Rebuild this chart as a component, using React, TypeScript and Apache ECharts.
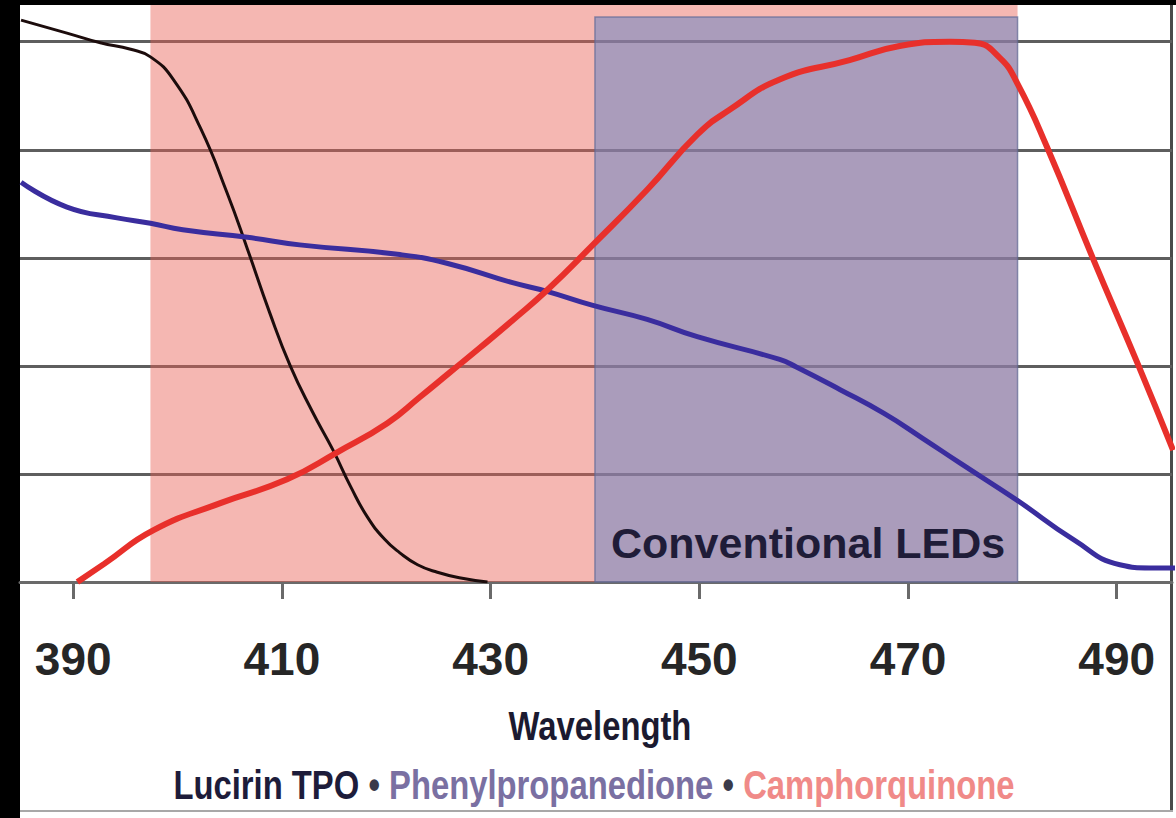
import React, { useEffect, useRef } from "react";
import * as echarts from "echarts";

// ---- data ----
const tickLabels = [390, 410, 430, 450, 470, 490];

const tpoX = [385.0, 389.4, 392.6, 395.5, 397.4, 399.6, 402.2, 404.75, 406.7, 408.8, 410.8, 412.9, 414.9, 416.6, 418.2, 419.8, 421.3, 423.0, 424.9, 427.0, 429.7];
const tpoY = [5.2, 5.08, 4.99, 4.93, 4.86, 4.65, 4.2, 3.6, 3.08, 2.5, 2.0, 1.58, 1.22, 0.88, 0.6, 0.4, 0.27, 0.16, 0.09, 0.04, 0.0];

const ppdX = [385.0, 389.4, 394.2, 397.4, 400.5, 406.7, 411.7, 421.3, 425.8, 432.1, 435.4, 439.8, 445.0, 449.8, 457.7, 459.3, 463.5, 467.7, 471.4, 475.0, 480.4, 485.9, 490.3, 493.2, 495.6];
const ppdY = [3.7, 3.47, 3.37, 3.32, 3.26, 3.19, 3.12, 3.03, 2.95, 2.77, 2.69, 2.56, 2.43, 2.27, 2.06, 1.99, 1.78, 1.56, 1.33, 1.1, 0.76, 0.39, 0.16, 0.13, 0.13];

const cqX = [390.4, 393.0, 397.7, 404.1, 410.5, 415.3, 420.1, 423.2, 426.1, 429.0, 432.2, 435.4, 439.8, 445.0, 449.8, 452.9, 457.7, 464.4, 469.2, 474.0, 476.4, 478.8, 480.5, 483.3, 487.7, 492.1, 495.4];
const cqY = [0.0, 0.17, 0.48, 0.73, 0.95, 1.2, 1.47, 1.71, 1.94, 2.17, 2.43, 2.7, 3.12, 3.63, 4.14, 4.37, 4.65, 4.83, 4.96, 5.0, 4.99, 4.85, 4.61, 4.03, 3.0, 2.0, 1.22];

const seriesNames = ["Lucirin TPO", "Phenylpropanedione", "Camphorquinone"];
const blueRegion = [397.4, 480.5]; // broad (pink) band
const ledRegion = [440.0, 480.5]; // "Conventional LEDs" band
const ledLabel = "Conventional LEDs";
const axisTitle = "Wavelength";

const pairs = (xs: number[], ys: number[]) => xs.map((x, i) => [x, ys[i]]);

export default function App() {
  const ref = useRef<HTMLDivElement>(null);
  useEffect(() => {
    if (!ref.current) return;
    const chart = echarts.init(ref.current, null, { renderer: "svg" });
    const yMax = 5.34;
    const cond = "'Liberation Sans', Arial, sans-serif";
    const condFont = `bold 41px ${cond}`;
    chart.setOption({
      animation: false,
      backgroundColor: "transparent",
      grid: { left: 20, right: 4, top: 5, bottom: 236, containLabel: false },
      xAxis: {
        type: "value",
        min: 384.9,
        max: 495.3,
        axisLine: { show: true, onZero: true, lineStyle: { color: "#6a6a6a", width: 3 } },
        axisTick: { show: true, customValues: tickLabels, length: 17, lineStyle: { color: "#6a6a6a", width: 3 } },
        axisLabel: {
          customValues: tickLabels,
          margin: 54,
          fontFamily: "'Liberation Sans', Arial, sans-serif",
          fontWeight: "bold",
          fontSize: 46,
          color: "#262626",
        },
        splitLine: { show: false },
      },
      yAxis: {
        type: "value",
        min: 0,
        max: yMax,
        interval: 1,
        axisLine: { show: false },
        axisTick: { show: false },
        axisLabel: { show: false },
        splitLine: { show: true, showMaxLine: false, lineStyle: { color: "#5e5e5e", width: 3 } },
      },
      series: [
        {
          type: "line",
          name: "band",
          z: 1,
          data: [[385, 0]],
          showSymbol: false,
          symbol: "none",
          lineStyle: { opacity: 0 },
          silent: true,
          markArea: {
            silent: true,
            itemStyle: { color: "rgba(232,96,84,0.45)" },
            data: [[{ coord: [blueRegion[0], 0] }, { coord: [blueRegion[1], yMax] }]],
          },
        },
        {
          type: "line",
          name: seriesNames[0],
          z: 3,
          data: pairs(tpoX, tpoY),
          smooth: 0.5,
          showSymbol: false,
          symbol: "none",
          lineStyle: { color: "#1c0c0c", width: 3 },
        },
        {
          type: "line",
          name: seriesNames[1],
          z: 3,
          data: pairs(ppdX, ppdY),
          smooth: 0.5,
          showSymbol: false,
          symbol: "none",
          lineStyle: { color: "#3a2d9e", width: 5 },
        },
        {
          type: "line",
          name: seriesNames[2],
          z: 3,
          data: pairs(cqX, cqY),
          smooth: 0.5,
          showSymbol: false,
          symbol: "none",
          lineStyle: { color: "#e8302b", width: 6 },
        },
        {
          type: "line",
          name: "led",
          z: 10,
          data: [[385, 0]],
          showSymbol: false,
          symbol: "none",
          lineStyle: { opacity: 0 },
          silent: true,
          markArea: {
            silent: true,
            itemStyle: { color: "rgba(110,135,195,0.56)", borderColor: "rgba(95,105,150,0.7)", borderWidth: 1.5 },
            data: [[{ coord: [ledRegion[0], 0] }, { coord: [ledRegion[1], 5.23] }]],
          },
        },
      ],
      graphic: [
        {
          type: "text",
          z: 100,
          left: 611,
          top: 521,
          style: {
            text: ledLabel,
            fill: "#1f1c38",
            font: "bold 43px 'Liberation Sans', Arial, sans-serif",
          },
        },
        {
          type: "text",
          z: 100,
          x: 600,
          y: 726,
          scaleX: 0.8,
          style: {
            text: axisTitle,
            fill: "#1b1a30",
            font: condFont,
            align: "center",
            verticalAlign: "middle",
          },
        },
        {
          type: "text",
          z: 100,
          x: 594,
          y: 785,
          scaleX: 0.8,
          style: {
            text: `{a|${seriesNames[0]}} {d|•} {b|${seriesNames[1]}} {d|•} {c|${seriesNames[2]}}`,
            align: "center",
            verticalAlign: "middle",
            font: condFont,
            rich: {
              a: { fill: "#1d1c3a", font: condFont },
              b: { fill: "#7a70a2", font: condFont },
              c: { fill: "#f08a88", font: condFont },
              d: { fill: "#3a3a4a", font: condFont },
            },
          },
        },
      ],
    });
    return () => chart.dispose();
  }, []);

  return (
    <div style={{ position: "fixed", left: 0, top: 0, width: 1176, height: 818, background: "#000", overflow: "hidden" }}>
      <div style={{ position: "absolute", left: 20, top: 5, width: 1156, height: 813, background: "#fff" }} />
      <div style={{ position: "absolute", left: 1170, top: 5, width: 3, height: 807, background: "#4a4a4a" }} />
      <div style={{ position: "absolute", left: 20, top: 810, width: 1153, height: 2, background: "#a8a8a8" }} />
      <div ref={ref} style={{ position: "absolute", left: 0, top: 0, width: 1176, height: 818 }} />
    </div>
  );
}
